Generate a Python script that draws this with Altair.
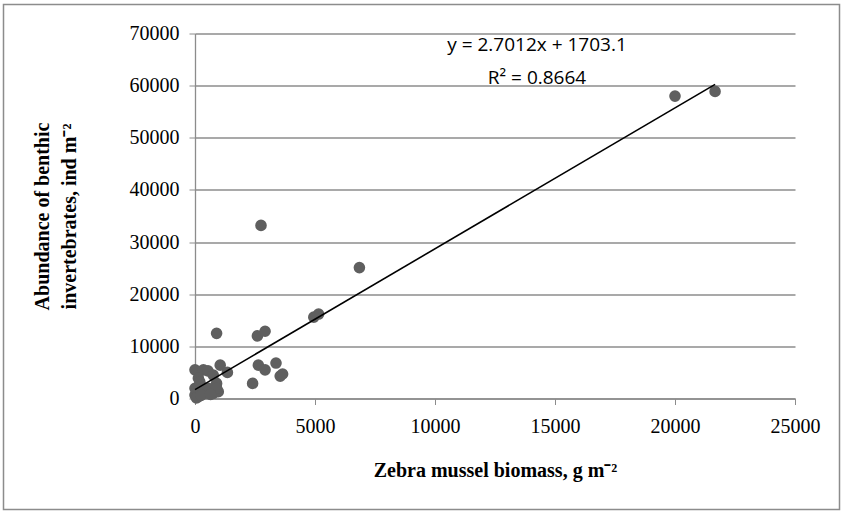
import altair as alt
import pandas as pd

# Zebra mussel biomass (g m-2) and abundance of benthic invertebrates (ind m-2)
biomass = [0, 350, 540, 1050, 1350, 140, 760, 900, 0, 140, 420, 760, 970, 0, 280, 555, 900,
           60, 250, 200, 650,
           2400, 2640, 2920, 3375, 3550, 3650,
           900, 2600, 2920, 4950, 5150, 6850, 2750,
           20000, 21670]
abundance = [5500, 5500, 5300, 6400, 5000, 3900, 4500, 2900, 650, 350, 1000, 1000, 1300, 1950, 2300, 1950, 1950,
             100, 600, 3200, 800,
             2900, 6400, 5500, 6800, 4300, 4700,
             12500, 12000, 12900, 15600, 16200, 25100, 33200,
             58000, 58900]

slope = 2.7012
intercept = 1703.1
eq_lines = ["y = 2.7012x + 1703.1", "R² = 0.8664"]

x_ticks = [0, 5000, 10000, 15000, 20000, 25000]
y_ticks = [0, 10000, 20000, 30000, 40000, 50000, 60000, 70000]

df = pd.DataFrame({"x": biomass, "y": abundance})
xmin, xmax = min(biomass), max(biomass)
trend = pd.DataFrame({"x": [xmin, xmax], "y": [slope * xmin + intercept, slope * xmax + intercept]})
eq = pd.DataFrame({"x": [14250, 14250], "y": [67800, 61500], "t": eq_lines})

GRAY = "#8c8c8c"
xscale = alt.Scale(domain=[0, 25000], nice=False)
yscale = alt.Scale(domain=[0, 70000], nice=False)

x_enc = alt.X("x:Q", scale=xscale, axis=alt.Axis(
    values=x_ticks, grid=False, title="Zebra mussel biomass, g m⁻²", format="d",
    titlePadding=24, labelPadding=12, labelFlush=False))
y_enc = alt.Y("y:Q", scale=yscale, axis=alt.Axis(
    values=y_ticks, grid=True, title=["Abundance of benthic", "invertebrates, ind m⁻²"],
    format="d", labelPadding=10, titlePadding=50, labelFlush=False))

points = alt.Chart(df).mark_circle(size=135, color="#5f5f5f", opacity=1).encode(x=x_enc, y=y_enc)

line = alt.Chart(trend).mark_line(color="black", strokeWidth=1.6).encode(
    x=alt.X("x:Q", scale=xscale), y=alt.Y("y:Q", scale=yscale))

text = alt.Chart(eq).mark_text(font="Open Sans", fontSize=19, color="black").encode(
    x=alt.X("x:Q", scale=xscale), y=alt.Y("y:Q", scale=yscale), text="t:N")

frame = alt.Chart(pd.DataFrame({"a": [0]})).mark_rect(
    fill=None, stroke=GRAY, strokeWidth=1.5).encode(
    x=alt.value(-191.5), x2=alt.value(644.5), y=alt.value(-29), y2=alt.value(476))

chart = alt.layer(frame, points, line, text).properties(
    width=600, height=365,
    background="white",
    autosize=alt.AutoSizeParams(type="none"),
    padding={"left": 195, "top": 33.5, "right": 49, "bottom": 115.5},
).configure_view(stroke=None).configure_axis(
    domainColor=GRAY, tickColor=GRAY, gridColor=GRAY, gridWidth=1.3, domainWidth=1.3,
    tickSize=6, labelFont="Liberation Serif", labelFontSize=20, labelColor="black",
    titleFont="Liberation Serif", titleFontSize=20, titleFontWeight="bold", titleColor="black",
    titleLineHeight=27,
)

chart.save("out.html", embed_options={"renderer": "svg", "actions": False})
